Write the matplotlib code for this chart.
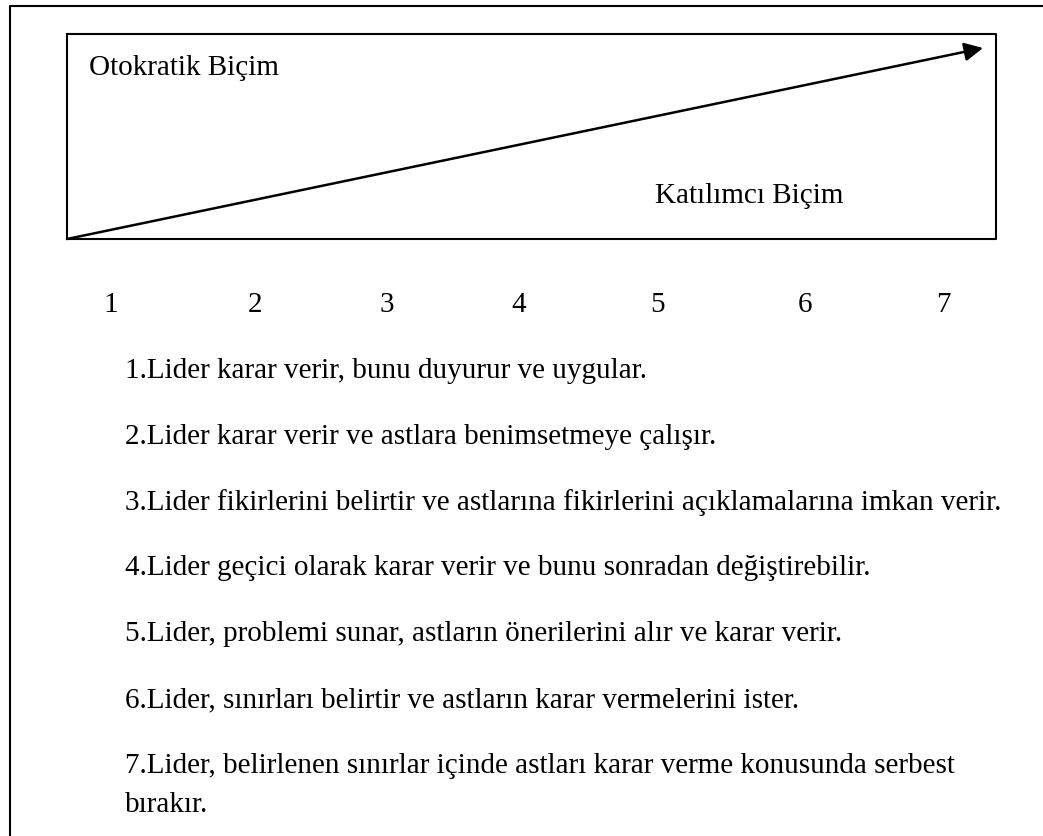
"""
Tannenbaum-Schmidt leadership continuum diagram (7 styles).
"""
import matplotlib
matplotlib.use("Agg")
import matplotlib.pyplot as plt

plt.rcParams.update({
    "font.family": ["Liberation Serif", "DejaVu Serif"],
    "figure.dpi": 100,
})

W, H = 1043, 836

left_label = "Otokratik Biçim"
right_label = "Katılımcı Biçim"
scale_nums = ["1", "2", "3", "4", "5", "6", "7"]
scale_x = [111, 255, 387, 519, 657, 805, 943]
items = [
    "1.Lider karar verir, bunu duyurur ve uygular.",
    "2.Lider karar verir ve astlara benimsetmeye çalışır.",
    "3.Lider fikirlerini belirtir ve astlarına fikirlerini açıklamalarına imkan verir.",
    "4.Lider geçici olarak karar verir ve bunu sonradan değiştirebilir.",
    "5.Lider, problemi sunar, astların önerilerini alır ve karar verir.",
    "6.Lider, sınırları belirtir ve astların karar vermelerini ister.",
    "7.Lider, belirlenen sınırlar içinde astları karar verme konusunda serbest\nbırakır.",
]

fig = plt.figure(figsize=(W / 100, H / 100))
ax = fig.add_axes([0, 0, 1, 1])
ax.set_xlim(0, W)
ax.set_ylim(H, 0)
ax.axis("off")

# outer frame (cropped at right and bottom)
ax.plot([10, 10, W + 5], [H + 5, 6, 6], color="black", lw=1.5)

# inner box
bx0, by0, bx1, by1 = 67, 34, 996, 239
ax.plot([bx0, bx1, bx1, bx0, bx0], [by0, by0, by1, by1, by0], color="black", lw=1.5)

# diagonal arrow
ax.annotate("", xy=(983, 48), xytext=(bx0, by1),
            arrowprops=dict(arrowstyle="-|>", color="black", lw=1.8,
                            mutation_scale=28, shrinkA=0, shrinkB=0))

fs = 21
ax.text(89, 75, left_label, fontsize=fs, va="baseline", ha="left")
ax.text(655, 203, right_label, fontsize=fs, va="baseline", ha="left")

for x, s in zip(scale_x, scale_nums):
    ax.text(x, 312, s, fontsize=fs, va="baseline", ha="center")

for i, s in enumerate(items):
    base = 378 + i * 65.8
    for j, part in enumerate(s.split("\n")):
        ax.text(125, base + j * 39, part, fontsize=fs, va="baseline", ha="left")

fig.savefig("out.png", dpi=100)
